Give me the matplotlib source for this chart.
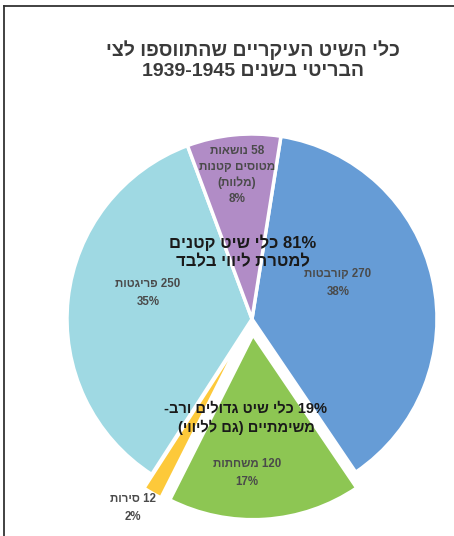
import re
import matplotlib
matplotlib.use("Agg")
import matplotlib.pyplot as plt
from matplotlib.lines import Line2D

plt.rcParams['font.family'] = ['Liberation Sans', 'DejaVu Sans']

# data (clockwise from top)
names = ['קורבטות', 'משחתות', 'סירות', 'פריגטות', 'נושאות']
counts = [270, 120, 12, 250, 58]
pcts = ['38%', '17%', '2%', '35%', '8%']
colors = ['#669cd6', '#8dc653', '#fdc93a', '#9fd9e3', '#b18cc6']
explode = [0, 0.085, 0.085, 0, 0]

title = 'כלי השיט העיקריים שהתווספו לצי\nהבריטי בשנים 1939-1945'
note_small = '81% כלי שיט קטנים\nלמטרת ליווי בלבד'
note_big = '19% כלי שיט גדולים ורב-\nמשימתיים (גם לליווי)'


def rtl(s):
    # turn logical hebrew into visual order, keep number runs as they are
    lines = []
    for line in s.split('\n'):
        toks = re.findall(r'\d[\d\-]*%?|.', line)
        out = []
        for t in reversed(toks):
            if len(t) == 1:
                t = {'(': ')', ')': '('}.get(t, t)
            out.append(t)
        lines.append(''.join(out))
    return '\n'.join(lines)


W, H = 454, 536
fig = plt.figure(figsize=(W / 100, H / 100), dpi=100)
ax = fig.add_axes([0, 0, 1, 1])
cx, cy, R = 252, 319, 185

ax.pie(counts, colors=colors, explode=explode, startangle=81, counterclock=False,
       radius=1, wedgeprops=dict(edgecolor='white', linewidth=2.5))
# pie resets the limits, so set them afterwards
ax.set_xlim(-cx / R, (W - cx) / R)
ax.set_ylim(-(H - cy) / R, cy / R)
ax.set_aspect('equal')
ax.axis('off')


def ftext(px, py, s, **kw):
    fig.text(px / W, 1 - py / H, rtl(s), ha='center', va='center', **kw)


ftext(253, 60, title, fontsize=14, fontweight='bold', color='#3a3a3a', linespacing=1.25)

lab = dict(fontsize=8.3, fontweight='bold', color='#4a4a4a', linespacing=1.6)
ftext(237, 175, '58 נושאות\nמטוסים קטנות\n(מלוות)\n8%', fontsize=8.5, fontweight='bold',
      color='#4a4a4a', linespacing=1.45)
ftext(338, 283, f'{counts[0]} {names[0]}\n{pcts[0]}', **lab)
ftext(148, 293, f'{counts[3]} {names[3]}\n{pcts[3]}', **lab)
ftext(247, 473, f'{counts[1]} {names[1]}\n{pcts[1]}', **lab)
ftext(133, 508, f'{counts[2]} {names[2]}\n{pcts[2]}', **lab)

ftext(243, 252, note_small, fontsize=12, fontweight='bold', color='#1a1a1a', linespacing=1.3)
ftext(246, 418, note_big, fontsize=10.5, fontweight='bold', color='#1a1a1a', linespacing=1.35)

# frame
fig.add_artist(Line2D([4 / W, 4 / W], [0, 1 - 6 / H], transform=fig.transFigure, color='#333333', lw=1.3))
fig.add_artist(Line2D([4 / W, 1], [1 - 6 / H, 1 - 6 / H], transform=fig.transFigure, color='#333333', lw=1.3))

fig.savefig('out.png', dpi=100)
